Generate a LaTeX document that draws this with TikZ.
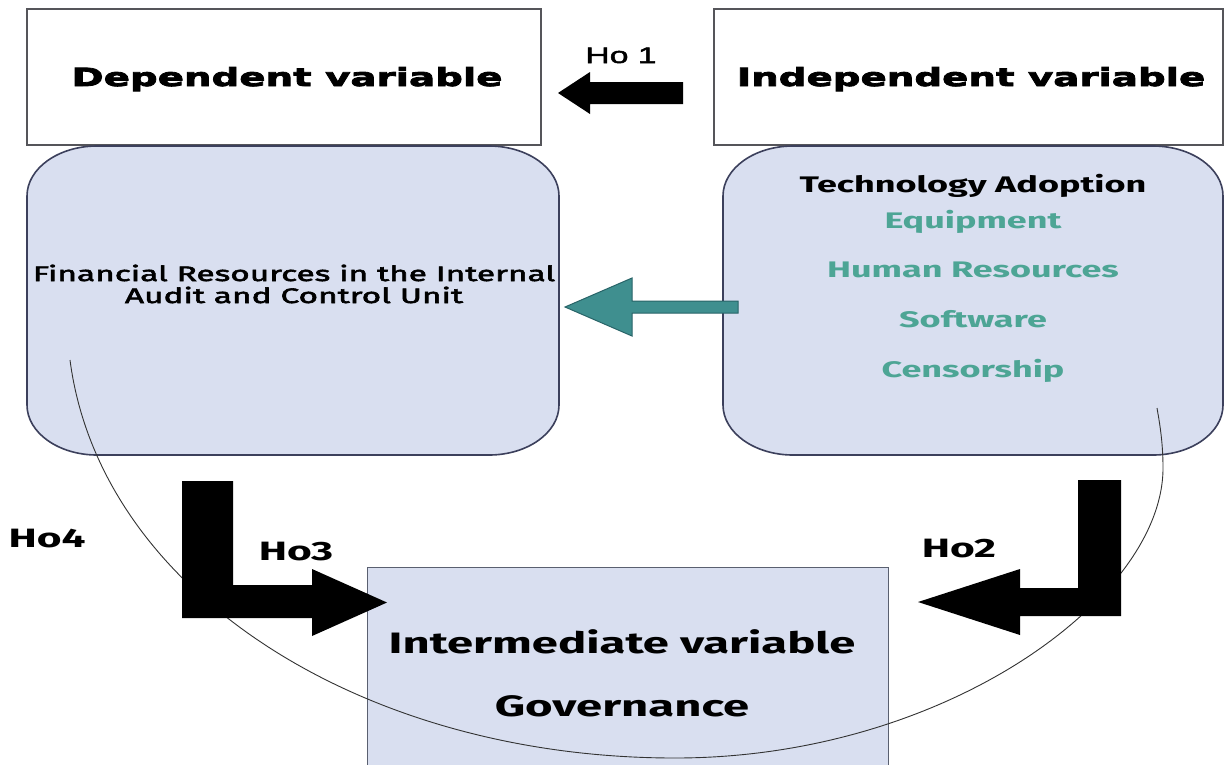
\documentclass[tikz,border=0pt]{standalone}
\usepackage{fontspec}
\newfontfamily\heavyfont{DejaVu Sans}[FakeStretch=1.55]
\newfontfamily\arialfont{Liberation Sans}[FakeStretch=1.5]
\newfontfamily\firafont{Fira Sans}[FakeStretch=1.6]
\newcommand\thicken[2]{\special{pdf:literal direct 2 Tr #1 w}#2\special{pdf:literal direct 0 Tr}}
\definecolor{boxfill}{RGB}{217,223,240}
\definecolor{boxline}{RGB}{60,64,92}
\definecolor{topline}{RGB}{85,85,90}
\definecolor{midline}{RGB}{90,96,112}
\definecolor{tealfill}{RGB}{63,143,143}
\definecolor{tealline}{RGB}{40,100,104}
\definecolor{tealtext}{RGB}{77,165,149}
\newcommand\rrbox[4]{%
  \draw[rbox] (#1+70,#2) -- (#3-70,#2)
    .. controls (#3-31.4,#2) and (#3,#2+22.4) .. (#3,#2+50)
    -- (#3,#4-50)
    .. controls (#3,#4-22.4) and (#3-31.4,#4) .. (#3-70,#4)
    -- (#1+70,#4)
    .. controls (#1+31.4,#4) and (#1,#4-22.4) .. (#1,#4-50)
    -- (#1,#2+50)
    .. controls (#1,#2+22.4) and (#1+31.4,#2) .. (#1+70,#2) -- cycle;}
\begin{document}
\begin{tikzpicture}[x=1pt,y=-1pt,
  topbox/.style={draw=topline, line width=1.4pt, fill=white, inner sep=0pt},
  rbox/.style={draw=boxline, line width=1.6pt, fill=boxfill},
  midbox/.style={draw=midline, line width=1.4pt, fill=boxfill, inner sep=0pt},
  heavy/.style={font=\heavyfont\bfseries\fontsize{25}{30}\selectfont, anchor=base, inner sep=0pt},
  holab/.style={font=\firafont\bfseries\fontsize{26.5}{30}\selectfont, anchor=base, inner sep=0pt},
  techlab/.style={font=\firafont\bfseries\fontsize{22.5}{26}\selectfont, anchor=base, inner sep=0pt},
  teallab/.style={techlab, text=tealtext},
  finlab/.style={font=\firafont\fontsize{20.9}{22}\selectfont, anchor=base, inner sep=0pt, align=center},
  midlab/.style={font=\firafont\bfseries\fontsize{29.5}{32}\selectfont, anchor=base, inner sep=0pt},
  blockarrow/.style={fill=black},
  tealarrow/.style={fill=tealfill, draw=tealline, line width=1pt},
  ho4line/.style={draw=black!80, line width=0.9pt}
]
\useasboundingbox (0,0) rectangle (1225,764);
\clip (0,0) rectangle (1225,764);
\fill[white] (0,0) rectangle (1225,764);

% top boxes
\node[topbox, minimum width=514pt, minimum height=136pt] (dep) at (284,77) {};
\node[topbox, minimum width=509pt, minimum height=136pt] (indep) at (968.5,77) {};
\node[heavy] (deptext) at (287,86) {\thicken{0.8}{Dependent variable}};
\node[heavy] (indeptext) at (971,86) {\thicken{0.8}{Independent variable}};

% rounded boxes
\rrbox{27}{146}{559}{455}
\rrbox{723}{146}{1223}{455}
\coordinate (finbox) at (293,300);
\coordinate (techbox) at (973,300);

% intermediate box
\node[midbox, minimum width=521pt, minimum height=202pt, anchor=north west] (mid) at (367,567) {};

% texts in rounded boxes
\node[finlab] (fin) at (294,303) {\thicken{0.6}{Financial Resources in the Internal}\\\thicken{0.6}{Audit and Control Unit}};
\node[techlab] (tech) at (973,192) {Technology Adoption};
\node[teallab] (equip) at (973,228) {Equipment};
\node[teallab] (human) at (973,277) {Human Resources};
\node[teallab] (soft) at (973,327) {Software};
\node[teallab] (cens) at (973,377) {Censorship};

% intermediate texts
\node[midlab] (midtext) at (622,653) {Intermediate variable};
\node[midlab] (gov) at (622,716) {Governance};

% Ho4 curve
\coordinate (ho4a) at (70,360);
\coordinate (ho4m) at (675,758);
\coordinate (ho4r) at (1163,468);
\coordinate (ho4b) at (1157,408);
\draw[ho4line] (ho4a) .. controls (100,590) and (360,758) .. (ho4m)
  .. controls (945,758) and (1163,598) .. (ho4r)
  .. controls (1163,440) and (1159,420) .. (ho4b);

% Ho1 arrow
\fill[blockarrow] (683,82) -- (590,82) -- (590,72) -- (558,93) -- (590,114) -- (590,104) -- (683,104) -- cycle;
\node[font=\arialfont\fontsize{22.5}{26}\selectfont, anchor=base, inner sep=0pt] (ho1) at (621,63) {\thicken{0.5}{Ho 1}};

% teal arrow
\filldraw[tealarrow] (738,301) -- (632,301) -- (632,278) -- (565,307) -- (632,336) -- (632,313) -- (738,313) -- cycle;

% Ho3 L-arrow
\fill[blockarrow] (182,481) -- (233,481) -- (233,585) -- (312,585) -- (312,569) -- (387,602.5) -- (312,636) -- (312,618) -- (182,618) -- cycle;
% Ho2 L-arrow
\fill[blockarrow] (1121,480) -- (1121,616) -- (1020,616) -- (1020,635) -- (918,602) -- (1020,569) -- (1020,588) -- (1078,588) -- (1078,480) -- cycle;

% labels
\node[holab] (ho4) at (47,547) {Ho4};
\node[holab] (ho3) at (296,560) {Ho3};
\node[holab] (ho2) at (959,557) {Ho2};
\end{tikzpicture}
\end{document}
